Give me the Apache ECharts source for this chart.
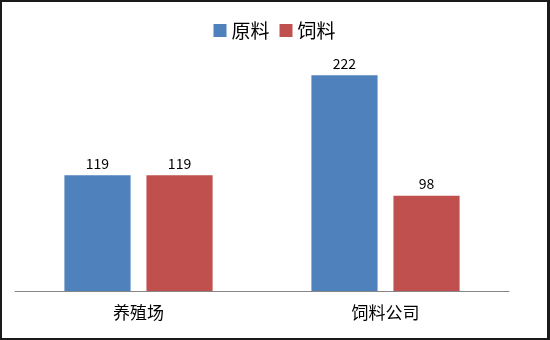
<!DOCTYPE html>
<html><head><meta charset="utf-8">
<script src="https://cdn.jsdelivr.net/npm/echarts@6/dist/echarts.min.js"></script>
<style>
html,body{margin:0;padding:0;background:#fff;}
#c{width:550px;height:340px;box-sizing:border-box;border:2px solid #1a1a1a;border-right-width:3px;}
</style></head>
<body><div id="c"></div>
<script>
const categories = ['养殖场', '饲料公司'];
const seriesNames = ['原料', '饲料'];
const rawValues = [119, 222];
const feedValues = [119, 98];
const colors = ['#4F81BD', '#C0504D'];
const font = '"Noto Sans CJK SC", "Microsoft YaHei", sans-serif';
const chart = echarts.init(document.getElementById('c'), null, {renderer: 'canvas'});
chart.setOption({
  animation: false,
  textStyle: {fontFamily: font},
  legend: {
    top: 14, left: 'center', itemWidth: 13, itemHeight: 13, itemGap: 10,
    icon: 'rect',
    textStyle: {fontSize: 19, color: '#000', fontFamily: font},
    data: seriesNames
  },
  grid: {left: 13, right: 38, top: 46, bottom: 47},
  xAxis: {
    type: 'category', data: categories,
    axisLine: {lineStyle: {color: '#868686', width: 1}},
    axisTick: {show: false},
    axisLabel: {fontSize: 17, color: '#000', margin: 13, fontFamily: font}
  },
  yAxis: {type: 'value', min: 0, max: 250, show: false, splitLine: {show: false}},
  series: [
    {name: seriesNames[0], type: 'bar', data: rawValues, barGap: '24%', barCategoryGap: '40%',
     itemStyle: {color: colors[0]},
     label: {show: true, position: 'top', distance: 5, fontSize: 14, color: '#000', fontFamily: font}},
    {name: seriesNames[1], type: 'bar', data: feedValues,
     itemStyle: {color: colors[1]},
     label: {show: true, position: 'top', distance: 5, fontSize: 14, color: '#000', fontFamily: font}}
  ]
});
</script></body></html>
